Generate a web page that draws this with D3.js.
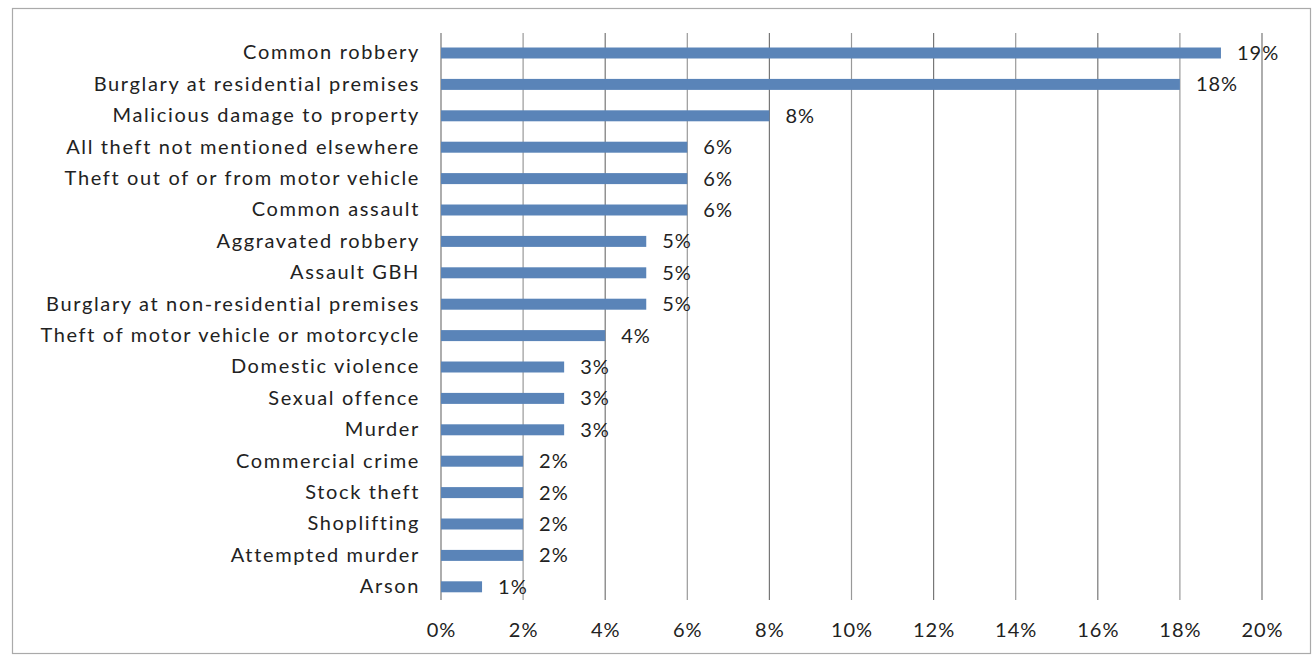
<!DOCTYPE html>
<html><head><meta charset="utf-8">
<script src="https://cdn.jsdelivr.net/npm/d3@7"></script>
<style>
body{margin:0;background:#fff;}
svg{display:block;}
text{font-family:"Lato","Noto Sans",sans-serif;fill:#222;}
</style></head>
<body>
<svg id="c" width="1316" height="658"></svg>
<script>
const categories = ["Common robbery","Burglary at residential premises","Malicious damage to property","All theft not mentioned elsewhere","Theft out of or from motor vehicle","Common assault","Aggravated robbery","Assault GBH","Burglary at non-residential premises","Theft of motor vehicle or motorcycle","Domestic violence","Sexual offence","Murder","Commercial crime","Stock theft","Shoplifting","Attempted murder","Arson"];
const values = [19,18,8,6,6,6,5,5,5,4,3,3,3,2,2,2,2,1];
const valueLabels = ["19%","18%","8%","6%","6%","6%","5%","5%","5%","4%","3%","3%","3%","2%","2%","2%","2%","1%"];
const tickValues = [0,2,4,6,8,10,12,14,16,18,20];
const tickLabels = ["0%","2%","4%","6%","8%","10%","12%","14%","16%","18%","20%"];

const svg = d3.select("#c");
svg.append("rect").attr("x",12.5).attr("y",8.5).attr("width",1298).attr("height",645)
  .attr("fill","none").attr("stroke","#aaa").attr("stroke-width",1.2);

const x = d3.scaleLinear().domain([0,20]).range([441,1262]);
const y = d3.scaleBand().domain(categories).range([37.3,602.5]).paddingInner(0.65).paddingOuter(0.325);

// gridlines
const gridTop = 33, gridBottom = 600;
svg.append("g").selectAll("line").data(tickValues).join("line")
  .attr("x1",d=>x(d)).attr("x2",d=>x(d)).attr("y1",gridTop).attr("y2",gridBottom)
  .attr("stroke",(d,i)=> i%2===0 ? "#777" : "#999").attr("stroke-width",1.2);

// bars
svg.append("g").selectAll("rect").data(values).join("rect")
  .attr("x",x(0)).attr("y",(d,i)=>y(categories[i]))
  .attr("width",d=>x(d)-x(0)).attr("height",y.bandwidth())
  .attr("fill","#5a84b8");

// category labels
const yAxis = d3.axisLeft(y).tickSize(0).tickPadding(0);
const ga = svg.append("g").attr("transform","translate(420,0)").call(yAxis);
ga.select(".domain").remove();
ga.selectAll("text").attr("font-size",20).attr("fill","#222")
  .style("font-family",'"Lato","Noto Sans",sans-serif').style("letter-spacing","1.65px");

// value labels
svg.append("g").selectAll("text").data(values).join("text")
  .attr("x",d=>x(d)+16).attr("y",(d,i)=>y(categories[i])+y.bandwidth()/2)
  .attr("dy","0.35em").attr("font-size",20).style("letter-spacing","1px").text((d,i)=>valueLabels[i]);

// x axis
const xAxis = d3.axisBottom(x).tickValues(tickValues).tickFormat((d,i)=>tickLabels[i]).tickSize(0).tickPadding(0);
const gx = svg.append("g").attr("transform","translate(0,623)").call(xAxis);
gx.select(".domain").remove();
gx.selectAll("text").attr("font-size",20).attr("fill","#222")
  .style("font-family",'"Lato","Noto Sans",sans-serif').style("letter-spacing","1px");
</script>
</body></html>
